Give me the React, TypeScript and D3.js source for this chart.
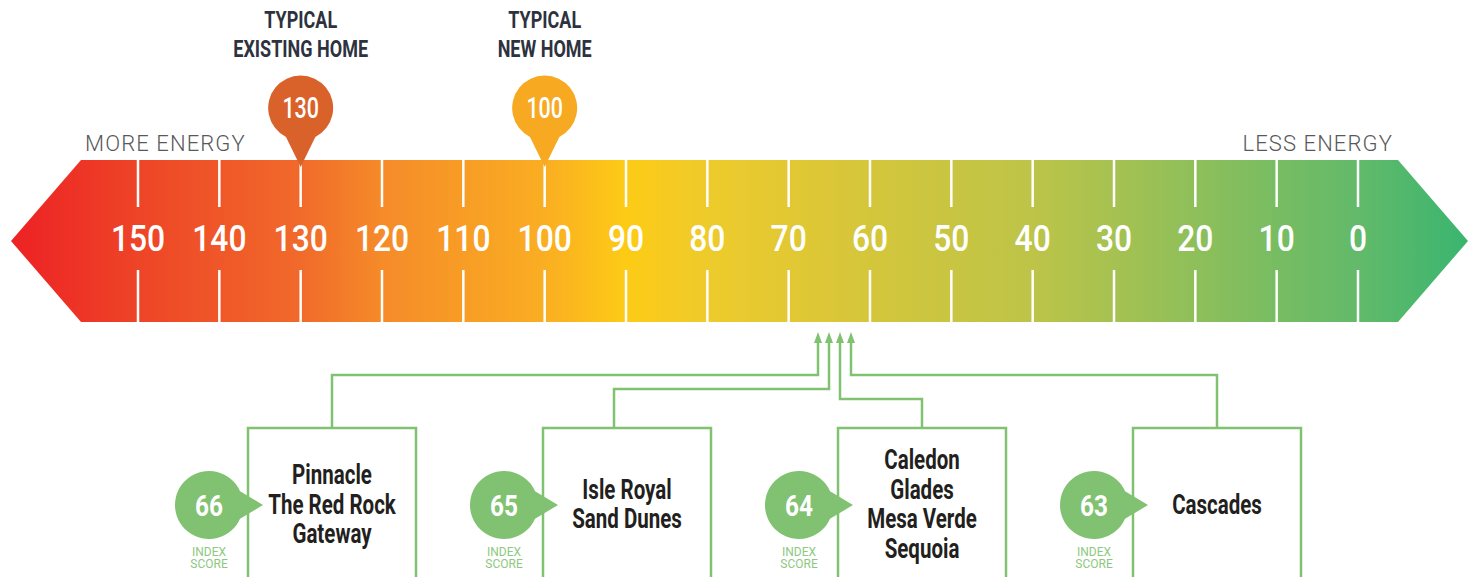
import React from "react";
import * as d3 from "d3";

const W = 1476;
const H = 577;

const tickValues = [150, 140, 130, 120, 110, 100, 90, 80, 70, 60, 50, 40, 30, 20, 10, 0];
const markerValues = [130, 100];
const markerLabels = [["TYPICAL", "EXISTING HOME"], ["TYPICAL", "NEW HOME"]];
const markerColors = ["#D9622B", "#F7A922"];
const scores = [66, 65, 64, 63];
const communityNames = [
  ["Pinnacle", "The Red Rock", "Gateway"],
  ["Isle Royal", "Sand Dunes"],
  ["Caledon", "Glades", "Mesa Verde", "Sequoia"],
  ["Cascades"],
];
const gradientValues = [168, 150, 130, 120, 100, 90, 80, 70, 60, 40, 20, 0, -14];
const gradientColors = ["#ED1C24", "#EE4427", "#F16A2A", "#F58B29", "#FAAE22", "#FDCB16", "#EECB2B", "#E2C833", "#D4C63B", "#BDC448", "#8EBF5A", "#62BA6A", "#38B56F"];

const GREEN = "#80C271";
const COND = "Roboto, 'Liberation Sans', sans-serif";

export default function App() {
  const x = d3.scaleLinear().domain([150, 0]).range([138, 1358]);
  const bandTop = 160;
  const bandBot = 322;
  const bandMid = (bandTop + bandBot) / 2;
  const bandLeft = 81;
  const bandRight = 1398;
  const tipL = 11;
  const tipR = 1468;

  const bandPath = d3.path();
  bandPath.moveTo(tipL, bandMid);
  bandPath.lineTo(bandLeft, bandTop);
  bandPath.lineTo(bandRight, bandTop);
  bandPath.lineTo(tipR, bandMid);
  bandPath.lineTo(bandRight, bandBot);
  bandPath.lineTo(bandLeft, bandBot);
  bandPath.closePath();

  const gx0 = x(gradientValues[0]);
  const gx1 = x(gradientValues[gradientValues.length - 1]);

  // arrows & boxes
  const arrowX = d3.scalePoint<number>().domain(scores).range([818, 851]);
  const boxX = d3.scalePoint<number>().domain(scores).range([248, 1133]);
  const boxW = 168;
  const boxTop = 428;
  const elbowY = [375, 389, 399, 375];
  const dropOffset = [0, -13, 0, 0];
  const arrowTip = 332;
  const arrowBase = 343;

  const pinR = 32.5;
  const pinCy = 108;
  const pinTip = 167;

  const circR = 34;
  const circCy = 505;

  return (
    <div style={{ position: "absolute", left: 0, top: 0 }}>
      <svg width={W} height={H} style={{ display: "block", background: "#fff" }}>
        <defs>
          <linearGradient id="band" gradientUnits="userSpaceOnUse" x1={gx0} x2={gx1} y1={0} y2={0}>
            {gradientValues.map((v, i) => (
              <stop key={i} offset={(x(v) - gx0) / (gx1 - gx0)} stopColor={gradientColors[i]} />
            ))}
          </linearGradient>
        </defs>

        <path d={bandPath.toString()} fill="url(#band)" />

        {tickValues.map((v) => (
          <g key={v}>
            <line x1={x(v)} x2={x(v)} y1={bandTop} y2={207} stroke="#fff" strokeWidth={2.5} />
            <line x1={x(v)} x2={x(v)} y1={270} y2={bandBot} stroke="#fff" strokeWidth={2.5} />
            <text
              transform={`translate(${x(v)},${251}) scale(0.86,1)`}
              textAnchor="middle"
              fill="#fff"
              fontFamily={COND}
              fontWeight={500}
              fontSize={37}
            >
              {v}
            </text>
          </g>
        ))}

        <text x={85} y={151} fontFamily="Roboto, sans-serif" fontWeight={300} fontSize={22} letterSpacing={1.1} fill="#58595B">
          MORE ENERGY
        </text>
        <text x={1393} y={151} textAnchor="end" fontFamily="Roboto, sans-serif" fontWeight={300} fontSize={22} letterSpacing={1.1} fill="#58595B">
          LESS ENERGY
        </text>

        {markerValues.map((v, i) => {
          const cx = x(v);
          const dy = 29;
          const dx = Math.sqrt(pinR * pinR - dy * dy);
          const p = `M${cx},${pinTip} L${cx - dx},${pinCy + dy} A${pinR},${pinR} 0 1 1 ${cx + dx},${pinCy + dy} Z`;
          return (
            <g key={v}>
              <path d={p} fill={markerColors[i]} />
              <text
                transform={`translate(${cx},${pinCy + 10}) scale(0.74,1)`}
                textAnchor="middle"
                fill="#fff"
                fontFamily={COND}
                fontWeight={500}
                fontSize={29}
              >
                {v}
              </text>
              {markerLabels[i].map((t, j) => (
                <text
                  key={j}
                  transform={`translate(${cx},${28 + j * 28.5}) scale(0.75,1)`}
                  textAnchor="middle"
                  fill="#2D323E"
                  fontFamily={COND}
                  fontWeight={700}
                  fontSize={24}
                >
                  {t}
                </text>
              ))}
            </g>
          );
        })}

        {scores.map((s, i) => {
          const ax = arrowX(s)!;
          const bx = boxX(s)!;
          const bc = bx + boxW / 2;
          const dropX = bc + dropOffset[i];
          const ey = elbowY[i];
          const line = d3.line()([
            [ax, arrowBase],
            [ax, ey],
            [dropX, ey],
            [dropX, boxTop],
          ]);
          const ccx = bx - 39;
          const a = (24 * Math.PI) / 180;
          const px = ccx + circR * Math.cos(a);
          const py = circR * Math.sin(a);
          const bubble = `M${bx + 15},${circCy} L${px},${circCy + py} A${circR},${circR} 0 1 1 ${px},${circCy - py} Z`;
          const names = communityNames[i];
          const lh = 29.5;
          const startY = 504 - ((names.length - 1) * lh) / 2 + 9.5;
          return (
            <g key={s}>
              <path d={line!} fill="none" stroke={GREEN} strokeWidth={2.5} />
              <path d={`M${ax},${arrowTip} L${ax - 4},${arrowBase} L${ax + 4},${arrowBase} Z`} fill={GREEN} />
              <rect x={bx} y={boxTop} width={boxW} height={170} fill="#fff" stroke={GREEN} strokeWidth={2.5} />
              <path d={bubble} fill={GREEN} />
              <text
                transform={`translate(${ccx},${circCy + 10.5}) scale(0.84,1)`}
                textAnchor="middle"
                fill="#fff"
                fontFamily={COND}
                fontWeight={700}
                fontSize={29}
              >
                {s}
              </text>
              <text x={ccx} y={556} textAnchor="middle" fill="#8CC97F" fontFamily="Roboto, sans-serif" fontWeight={400} fontSize={12}>
                INDEX
              </text>
              <text x={ccx} y={568} textAnchor="middle" fill="#8CC97F" fontFamily="Roboto, sans-serif" fontWeight={400} fontSize={12}>
                SCORE
              </text>
              {names.map((n, j) => (
                <text
                  key={j}
                  transform={`translate(${bc},${startY + j * lh}) scale(0.76,1)`}
                  textAnchor="middle"
                  fill="#231F20"
                  fontFamily={COND}
                  fontWeight={700}
                  fontSize={27}
                >
                  {n}
                </text>
              ))}
            </g>
          );
        })}
      </svg>
    </div>
  );
}
